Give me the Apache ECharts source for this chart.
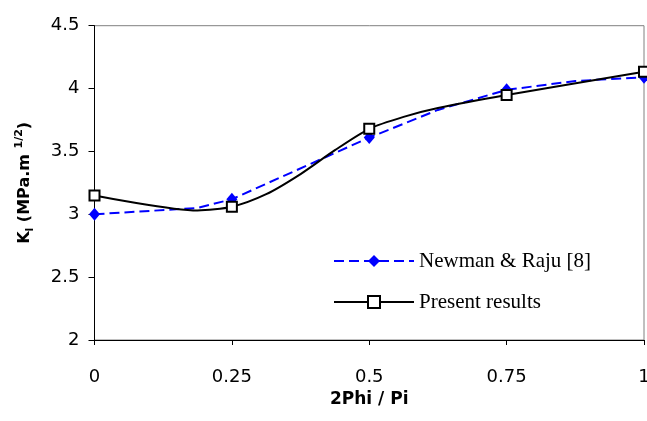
<!DOCTYPE html>
<html>
<head>
<meta charset="utf-8">
<script src="https://cdn.jsdelivr.net/npm/echarts@6/dist/echarts.min.js"></script>
<style>
html,body{margin:0;padding:0;background:#fff;}
#chart{width:647px;height:421px;}
</style>
</head>
<body>
<div id="chart"></div>
<script>
// x positions (2Phi/Pi) and values
const newmanX = [0, 0.1875, 0.25, 0.5, 0.625, 0.75, 0.875, 1];
const newmanY = [3.0, 3.05, 3.12, 3.61, 3.83, 3.99, 4.06, 4.09];
const presentX = [0, 0.1875, 0.25, 0.3125, 0.375, 0.4375, 0.5, 0.5625, 0.625, 0.75, 1];
const presentY = [3.15, 3.03, 3.06, 3.16, 3.32, 3.51, 3.68, 3.775, 3.845, 3.948, 4.134];
const xTicks = [0, 0.25, 0.5, 0.75, 1];
const yTicks = [2, 2.5, 3, 3.5, 4, 4.5];

function build(xs, ys) {
  return xs.map((x, i) => {
    const marked = xTicks.indexOf(x) !== -1;
    return marked ? { value: [x, ys[i]] } : { value: [x, ys[i]], symbol: 'none' };
  });
}

const chart = echarts.init(document.getElementById('chart'), null, { renderer: 'canvas' });
const tickFont = 'DejaVu Sans';
chart.setOption({
  animation: false,
  backgroundColor: '#ffffff',
  grid: {
    left: 94.5, right: 3, top: 25.7, bottom: 81,
    outerBoundsMode: 'none',
    containLabel: false,
    show: true, borderColor: '#808080', borderWidth: 1, backgroundColor: 'transparent'
  },
  legend: {
    orient: 'vertical',
    left: 328, top: 245,
    itemWidth: 80, itemHeight: 15, itemGap: 19,
    lineStyle: { width: 2 },
    textStyle: { fontFamily: 'Liberation Serif', fontSize: 21, lineHeight: 22, color: '#000' },
    data: ['Newman & Raju [8]', 'Present results']
  },
  xAxis: {
    type: 'value',
    min: xTicks[0], max: xTicks[xTicks.length - 1], interval: 0.25,
    name: '2Phi / Pi',
    nameLocation: 'middle', nameGap: 51,
    nameTextStyle: { fontFamily: tickFont, fontWeight: 'bold', fontSize: 17, color: '#000' },
    axisLine: { lineStyle: { color: '#000', width: 1 } },
    axisTick: { show: true, length: 5, lineStyle: { color: '#000' } },
    axisLabel: { fontFamily: tickFont, fontSize: 18, color: '#000', margin: 28 },
    splitLine: { show: false }
  },
  yAxis: {
    type: 'value',
    min: yTicks[0], max: yTicks[yTicks.length - 1], interval: 0.5,
    name: '{b|K}{sub|I}{b| (MPa.m }{sup|1/2}{b|)}',
    nameLocation: 'middle', nameRotate: 90, nameGap: 59,
    nameTextStyle: {
      fontFamily: tickFont, fontWeight: 'bold', fontSize: 16, color: '#000',
      rich: {
        b: { fontFamily: tickFont, fontWeight: 'bold', fontSize: 16, color: '#000', lineHeight: 22 },
        sub: { fontFamily: tickFont, fontWeight: 'bold', fontSize: 10, color: '#000', lineHeight: 12, verticalAlign: 'bottom' },
        sup: { fontFamily: tickFont, fontWeight: 'bold', fontSize: 11, color: '#000', lineHeight: 12, verticalAlign: 'top' }
      }
    },
    axisLine: { show: true, lineStyle: { color: '#000', width: 1 } },
    axisTick: { show: true, length: 6, lineStyle: { color: '#000' } },
    axisLabel: { fontFamily: tickFont, fontSize: 18, color: '#000', margin: 15,
      formatter: v => String(v) },
    splitLine: { show: false }
  },
  series: [
    {
      name: 'Newman & Raju [8]',
      type: 'line',
      data: build(newmanX, newmanY),
      symbol: 'diamond',
      symbolSize: [11, 13],
      showAllSymbol: true,
      itemStyle: { color: '#0000ff' },
      lineStyle: { color: '#0000ff', width: 2, type: [10, 5] },
      z: 2
    },
    {
      name: 'Present results',
      type: 'line',
      data: build(presentX, presentY),
      smooth: 0.25,
      symbol: 'rect',
      symbolSize: 10,
      showAllSymbol: true,
      itemStyle: { color: '#ffffff', borderColor: '#000000', borderWidth: 2 },
      lineStyle: { color: '#000000', width: 2 },
      z: 3
    }
  ]
});
</script>
</body>
</html>
